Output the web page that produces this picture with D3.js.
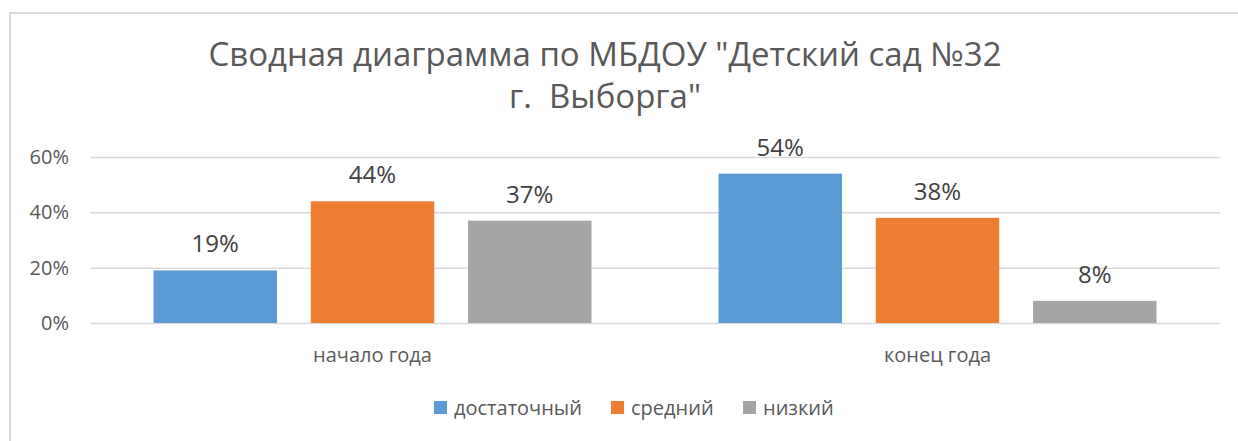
<!DOCTYPE html>
<html>
<head>
<meta charset="utf-8">
<script src="https://cdn.jsdelivr.net/npm/d3@7"></script>
<style>
  html, body { margin: 0; padding: 0; background: #fff; }
  svg { display: block; font-family: "Open Sans", "Noto Sans", sans-serif; }
</style>
</head>
<body>
<svg id="chart" width="1238" height="441"></svg>
<script>
// --- данные ---
const categories = ["начало года", "конец года"];
const seriesNames = ["достаточный", "средний", "низкий"];
const seriesColors = ["#5b9bd5", "#ed7d31", "#a5a5a5"];
const dostatochnyi = [0.19, 0.54];
const sredniy = [0.44, 0.38];
const nizkiy = [0.37, 0.08];
const yTicks = [0, 0.2, 0.4, 0.6];
const titleLines = ["Сводная диаграмма по МБДОУ \"Детский сад №32", "г.  Выборга\""];

const seriesValues = [dostatochnyi, sredniy, nizkiy];

const W = 1238, H = 441;
const svg = d3.select("#chart");

// рамка (видны только верх и левый край)
svg.append("path")
  .attr("d", `M10,${H} L10,13 L${W},13`)
  .attr("fill", "none")
  .attr("stroke", "#d9d9d9")
  .attr("stroke-width", 2);

// заголовок
svg.append("g").selectAll("text")
  .data(titleLines)
  .join("text")
  .attr("x", 605)
  .attr("y", (d, i) => 66 + i * 42)
  .attr("text-anchor", "middle")
  .attr("fill", "#595959")
  .style("font-size", "33px")
  .style("white-space", "pre")
  .text(d => d);

// шкалы
const x0 = d3.scaleBand().domain(categories).range([90, 1220]);
const x1 = d3.scaleBand().domain(seriesNames)
  .range([63.5, x0.bandwidth() - 63.5]).paddingInner(0.215);
const y = d3.scaleLinear().domain([0, 0.6]).range([323, 157]);

// сетка
svg.append("g")
  .attr("transform", "translate(90,0)")
  .call(d3.axisLeft(y).tickValues(yTicks).tickSize(-1130).tickFormat(""))
  .call(g => g.select(".domain").remove())
  .call(g => g.selectAll("line").attr("stroke", "#d9d9d9").attr("stroke-width", 1.5));

// подписи оси Y
svg.append("g").selectAll("text")
  .data(yTicks)
  .join("text")
  .attr("x", 69)
  .attr("y", d => y(d) + 7)
  .attr("text-anchor", "end")
  .attr("fill", "#595959")
  .style("font-size", "20px")
  .text(d => d3.format(".0%")(d));

// столбцы
const groups = svg.append("g").selectAll("g")
  .data(categories)
  .join("g")
  .attr("transform", d => `translate(${x0(d)},0)`);

const cells = groups.selectAll("g")
  .data((c, ci) => seriesNames.map((s, si) => ({ s, si, v: seriesValues[si][ci] })))
  .join("g");

cells.append("rect")
  .attr("x", d => x1(d.s))
  .attr("y", d => y(d.v))
  .attr("width", x1.bandwidth())
  .attr("height", d => y(0) - y(d.v))
  .attr("fill", d => seriesColors[d.si]);

cells.append("text")
  .attr("x", d => x1(d.s) + x1.bandwidth() / 2)
  .attr("y", d => y(d.v) - 18)
  .attr("text-anchor", "middle")
  .attr("fill", "#404040")
  .style("font-size", "24px")
  .text(d => d3.format(".0%")(d.v));

// подписи категорий
svg.append("g").selectAll("text")
  .data(categories)
  .join("text")
  .attr("x", d => x0(d) + x0.bandwidth() / 2)
  .attr("y", 362)
  .attr("text-anchor", "middle")
  .attr("fill", "#595959")
  .style("font-size", "20px")
  .text(d => d);

// легенда
const legendX = [434, 611, 743];
const legend = svg.append("g").selectAll("g")
  .data(seriesNames)
  .join("g")
  .attr("transform", (d, i) => `translate(${legendX[i]},408)`);
legend.append("rect")
  .attr("x", 0).attr("y", -7)
  .attr("width", 13).attr("height", 13)
  .attr("fill", (d, i) => seriesColors[i]);
legend.append("text")
  .attr("x", 20).attr("y", 7)
  .attr("fill", "#595959")
  .style("font-size", "20px")
  .text(d => d);
</script>
</body>
</html>
